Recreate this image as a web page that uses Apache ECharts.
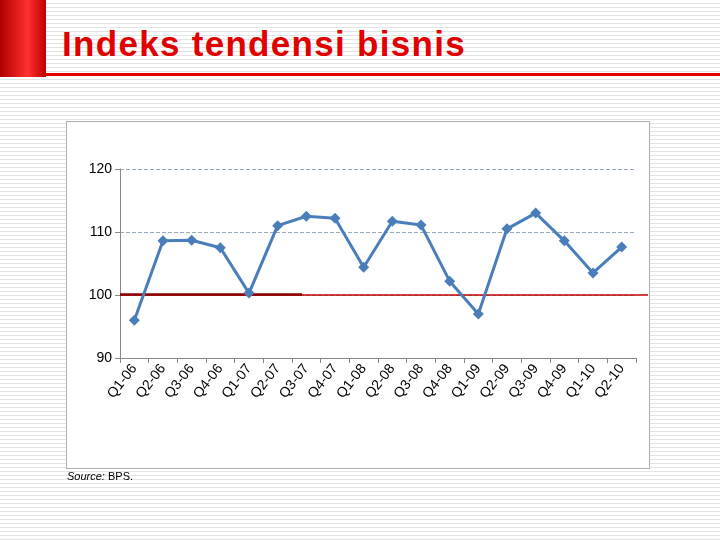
<!DOCTYPE html>
<html>
<head>
<meta charset="utf-8">
<script src="https://cdn.jsdelivr.net/npm/echarts@6/dist/echarts.min.js"></script>
<style>
body{margin:0;}
#wrap{position:relative;width:720px;height:540px;background:repeating-linear-gradient(to bottom,#fff 0px,#fff 3px,#e4e4e4 3px,#e4e4e4 4px);overflow:hidden;}
#bar{position:absolute;left:0;top:0;width:46px;height:77px;background:linear-gradient(to right,#b00000,#ff3030 60%,#c00000);}
#title{position:absolute;left:62px;top:24px;font-family:Arial,"Liberation Sans",sans-serif;font-size:35px;letter-spacing:1.3px;font-weight:bold;color:#e00000;}
#rule{position:absolute;left:46px;top:73px;width:674px;height:3px;background:#e00000;}
#box{position:absolute;left:66px;top:121px;width:582px;height:346px;background:#fff;border:1px solid #b0b0b0;}
#main{position:absolute;left:0;top:0;width:720px;height:540px;}
#src{position:absolute;left:67px;top:470px;font-family:Arial,"Liberation Sans",sans-serif;font-size:11px;color:#000;}
</style>
</head>
<body>
<div id="wrap">
<div id="bar"></div>
<div id="title">Indeks tendensi bisnis</div>
<div id="rule"></div>
<div id="box"></div>
<div id="main"></div>
<div id="src"><i>Source:</i> BPS.</div>
</div>
<script>
var categories = ['Q1-06','Q2-06','Q3-06','Q4-06','Q1-07','Q2-07','Q3-07','Q4-07','Q1-08','Q2-08','Q3-08','Q4-08','Q1-09','Q2-09','Q3-09','Q4-09','Q1-10','Q2-10'];
var values = [96.0,108.6,108.7,107.5,100.3,111.0,112.5,112.2,104.4,111.7,111.1,102.2,97.0,110.5,113.0,108.6,103.5,107.6];
var refValue = 100;

var chart = echarts.init(document.getElementById('main'));
chart.setOption({
    animation: false,
    grid: {left: 120, right: 84, top: 169, bottom: 182},
    xAxis: {
        type: 'category', data: categories, boundaryGap: true,
        axisLine: {lineStyle: {color: '#888'}},
        axisTick: {show: true, interval: 0, lineStyle: {color: '#888'}},
        axisLabel: {interval: 0, rotate: 52, color: '#000', fontSize: 14, fontFamily: 'Arial', margin: 8}
    },
    yAxis: {
        type: 'value', min: 90, max: 120, interval: 10,
        axisLine: {show: true, lineStyle: {color: '#888'}},
        axisTick: {show: true, lineStyle: {color: '#888'}},
        axisLabel: {color: '#000', fontSize: 14, fontFamily: 'Arial'},
        splitLine: {lineStyle: {color: '#9ab', type: 'dashed'}}
    },
    series: [{
        type: 'line', data: values,
        symbol: 'diamond', symbolSize: 11,
        lineStyle: {color: '#4a7ebb', width: 3},
        itemStyle: {color: '#4a7ebb'},
        z: 3
    }]
});
var p0 = chart.convertToPixel({xAxisIndex: 0, yAxisIndex: 0}, [0, refValue]);
var yRef = p0[1];
chart.setOption({
    graphic: [
        {type: 'line', shape: {x1: 120, y1: yRef, x2: 648, y2: yRef}, style: {stroke: '#c00000', lineWidth: 1.5}, z: 2},
        {type: 'line', shape: {x1: 120, y1: yRef - 0.5, x2: 302, y2: yRef - 0.5}, style: {stroke: '#8b0000', lineWidth: 2.5}, z: 2}
    ]
});
</script>
</body>
</html>
